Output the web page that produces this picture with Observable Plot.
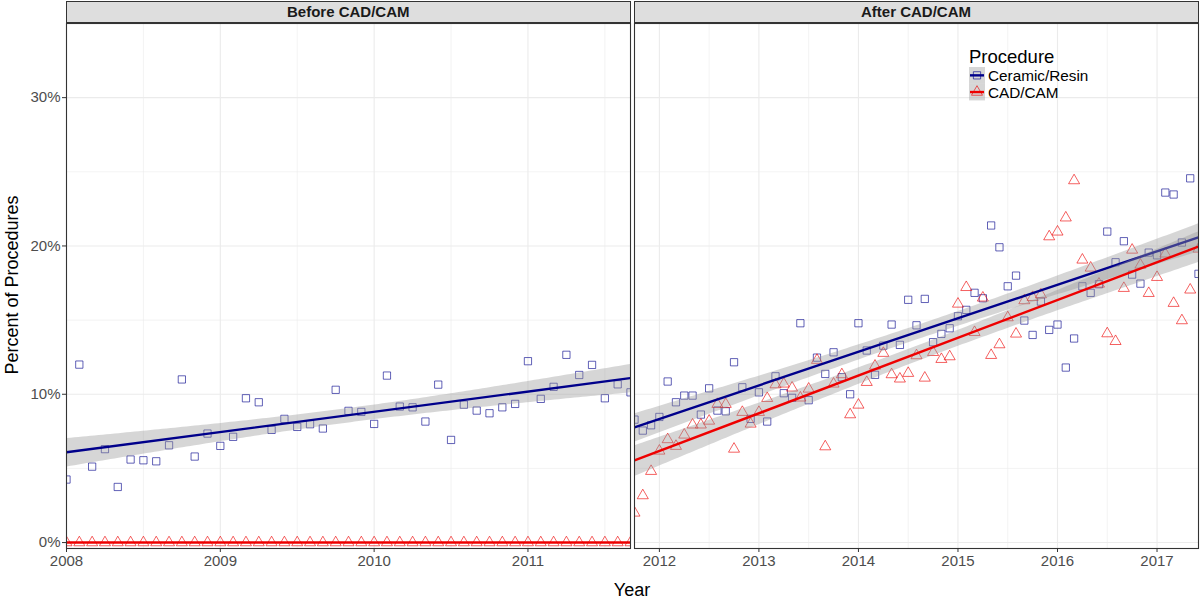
<!DOCTYPE html>
<html>
<head>
<meta charset="utf-8">
<script src="https://cdn.jsdelivr.net/npm/d3@7"></script>
<script src="https://cdn.jsdelivr.net/npm/@observablehq/plot@0.6"></script>
<style>
  body { margin: 0; background: #fff; font-family: "Liberation Sans", Arial, Helvetica, sans-serif; }
  #root { position: relative; width: 1200px; height: 600px; overflow: hidden; background: #fff; }
  .strip { position: absolute; top: 1px; height: 22px; background: #dedede; border: 1px solid #333; box-sizing: border-box;
           font-weight: bold; font-size: 15px; color: #1a1a1a; text-align: center; line-height: 20px; }
  .panel { position: absolute; top: 22px; }
  .ytitle { position: absolute; left: 12px; top: 285px; transform: translate(-50%, -50%) rotate(-90deg); white-space: nowrap;
            font-size: 18px; color: #000; }
  .xtitle { position: absolute; left: 632px; top: 581px; height: 18px; transform: translateX(-50%); font-size: 18px; line-height: 18px; color: #000; white-space: nowrap; }
  .legend { position: absolute; left: 969px; top: 44px; }
</style>
</head>
<body>
<div id="root"></div>
<script>
// ---------- data ----------
const procedures = ["Ceramic/Resin", "CAD/CAM"];
const lineColors = ["#00008b", "#ee0000"];
const symbols = ["square", "triangle"];
const facets = ["Before CAD/CAM", "After CAD/CAM"];

// monthly series, Before: Jan 2008 – Sep 2011
const beforeStart = [2008, 1];
const beforeCeramic = [4.25, 12.0, 5.12, 6.3, 3.75, 5.6, 5.55, 5.48, 6.56, 11.0,
  5.8, 7.35, 6.52, 7.13, 9.73, 9.46, 7.6, 8.34, 7.8, 7.98,
  7.69, 10.3, 8.88, 8.81, 8.0, 11.26, 9.17, 9.12, 8.16, 10.65,
  6.92, 9.3, 8.9, 8.72, 9.12, 9.35, 12.23, 9.69, 10.5, 12.66,
  11.3, 11.98, 9.73, 10.67, 10.13];
const beforeCadcam = [0, 0, 0, 0, 0, 0, 0, 0, 0, 0,
  0, 0, 0, 0, 0, 0, 0, 0, 0, 0,
  0, 0, 0, 0, 0, 0, 0, 0, 0, 0,
  0, 0, 0, 0, 0, 0, 0, 0, 0, 0,
  0, 0, 0, 0, 0];

// monthly series, After: Oct 2011 – Jun 2017
const afterStart = [2011, 10];
const afterCeramic = [8.29, 7.55, 7.91, 8.47, 10.86, 9.46, 9.91, 9.91, 8.63, 10.4,
  8.9, 8.85, 12.16, 10.47, 8.34, 10.13, 8.16, 11.21, 10.07, 9.76,
  14.79, 9.6, 12.47, 11.37, 12.83, 11.15, 10.0, 14.79, 12.95, 11.31,
  13.28, 14.7, 13.33, 16.37, 14.65, 16.43, 13.51, 14.07, 14.45, 15.26,
  15.69, 16.84, 16.47, 21.38, 19.91, 17.28, 18.0, 14.97, 14.0, 16.25,
  14.34, 14.7, 11.8, 13.76, 17.28, 16.84, 17.42, 20.97, 18.9, 20.32,
  18.07, 17.46, 19.55, 19.37, 23.6, 23.47, 20.23, 24.56, 18.12];
const afterCadcam = [2.0, 3.17, 4.81, 6.18, 6.95, 6.5, 7.26, 7.94, 7.94, 8.2,
  9.33, 9.33, 6.31, 8.79, 8.0, 8.79, 9.73, 10.65, 10.7, 10.43,
  9.76, 10.36, 12.3, 6.47, 10.7, 11.33, 8.63, 9.28, 10.81, 11.91,
  12.77, 11.33, 11.04, 11.42, 12.61, 11.1, 12.83, 12.36, 12.54, 16.09,
  17.21, 14.18, 16.5, 12.63, 13.35, 15.17, 14.07, 16.32, 16.54, 16.72,
  20.63, 20.95, 21.9, 24.41, 19.06, 18.52, 17.44, 14.09, 13.57, 17.15,
  19.73, 18.72, 16.81, 17.89, 19.47, 16.14, 14.97, 17.04, 19.8];

// axes
const beforeDomain = [2008, 2011 + 8 / 12];
const afterDomain = [2011 + 9 / 12, 2017 + 5 / 12];
const beforeTicks = [2008, 2009, 2010, 2011];
const beforeMinor = [2008.5, 2009.5, 2010.5, 2011.5];
const afterTicks = [2012, 2013, 2014, 2015, 2016, 2017];
const afterMinor = [2012.5, 2013.5, 2014.5, 2015.5, 2016.5];
const yDomain = [-0.4, 35];
const yTicks = [0, 10, 20, 30];
const yTickLabels = ["0%", "10%", "20%", "30%"];
const yMinor = [5, 15, 25, 35];

// ---------- build ----------
const FONT = '"Liberation Sans", Arial, Helvetica, sans-serif';

function rows(start, ceramic, cadcam) {
  const [yr, mo] = start;
  const out = [];
  ceramic.forEach((v, i) => out.push({t: yr + (mo - 1 + i) / 12, pct: v, procedure: procedures[0]}));
  cadcam.forEach((v, i) => out.push({t: yr + (mo - 1 + i) / 12, pct: v, procedure: procedures[1]}));
  return out;
}

function panel({data, domain, ticks, minor, width, marginLeft, showY}) {
  return Plot.plot({
    width, height: 578, marginTop: 1, marginBottom: 52, marginLeft, marginRight: 2,
    style: {fontFamily: FONT, fontSize: "15px", background: "transparent", overflow: "visible"},
    x: {domain, axis: null},
    y: {domain: yDomain, axis: null},
    color: {domain: procedures, range: lineColors},
    symbol: {domain: procedures, range: symbols},
    marks: [
      Plot.gridX(minor, {stroke: "#ebebeb", strokeOpacity: 1, strokeWidth: 0.6}),
      Plot.gridY(yMinor, {stroke: "#ebebeb", strokeOpacity: 1, strokeWidth: 0.6}),
      Plot.gridX(ticks, {stroke: "#ebebeb", strokeOpacity: 1, strokeWidth: 1.1}),
      Plot.gridY(yTicks, {stroke: "#ebebeb", strokeOpacity: 1, strokeWidth: 1.1}),
      Plot.dot(data, {x: "t", y: "pct", stroke: "procedure", symbol: "procedure", fill: "none",
        r: 4.1, strokeWidth: 1, strokeOpacity: 0.62, clip: true}),
      Plot.linearRegressionY(data, {x: "t", y: "pct", stroke: "procedure", z: "procedure",
        fill: "#999999", fillOpacity: 0.4, strokeWidth: 2.4, ci: 0.95, clip: true}),
      showY ? Plot.axisY(yTicks, {tickFormat: (d) => yTickLabels[yTicks.indexOf(d)], tickSize: 4, tickPadding: 2,
        stroke: "#333333", fill: "#4d4d4d", fontSize: 15, label: null}) : null,
      Plot.axisX(ticks, {tickFormat: (d) => String(d), tickSize: 4, tickPadding: 3,
        stroke: "#333333", fill: "#4d4d4d", fontSize: 15, label: null}),
      Plot.frame({stroke: "#333333", strokeWidth: 1.1})
    ]
  });
}

const root = document.getElementById("root");

const left = panel({data: rows(beforeStart, beforeCeramic, beforeCadcam), domain: beforeDomain,
  ticks: beforeTicks, minor: beforeMinor, width: 632, marginLeft: 66, showY: true});
left.classList.add("panel"); left.style.left = "0px";
root.appendChild(left);

const right = panel({data: rows(afterStart, afterCeramic, afterCadcam), domain: afterDomain,
  ticks: afterTicks, minor: afterMinor, width: 568, marginLeft: 2, showY: false});
right.classList.add("panel"); right.style.left = "632px";
root.appendChild(right);

// strips
[[65.5, 565.5], [633.5, 565]].forEach(([x, w], i) => {
  const s = document.createElement("div");
  s.className = "strip";
  s.style.left = x + "px"; s.style.width = w + "px";
  s.textContent = facets[i];
  root.appendChild(s);
});

// axis titles
const yt = document.createElement("div"); yt.className = "ytitle"; yt.textContent = "Percent of Procedures"; root.appendChild(yt);
const xt = document.createElement("div"); xt.className = "xtitle"; xt.textContent = "Year"; root.appendChild(xt);

// legend
const lg = document.createElement("div");
lg.className = "legend";
const NS = "http://www.w3.org/2000/svg";
const svg = document.createElementNS(NS, "svg");
svg.setAttribute("width", 160); svg.setAttribute("height", 62);
svg.style.overflow = "visible";
const title = document.createElementNS(NS, "text");
title.setAttribute("x", 0); title.setAttribute("y", 18.5);
title.setAttribute("font-size", "18.5px"); title.setAttribute("font-family", FONT);
title.textContent = "Procedure";
svg.appendChild(title);
procedures.forEach((p, i) => {
  const y0 = 23 + i * 16.7;
  const r = document.createElementNS(NS, "rect");
  r.setAttribute("x", 0); r.setAttribute("y", y0); r.setAttribute("width", 16); r.setAttribute("height", 16.7);
  r.setAttribute("fill", "#999999"); r.setAttribute("fill-opacity", 0.4);
  svg.appendChild(r);
  const sym = document.createElementNS(NS, "path");
  const type = symbols[i] === "square" ? d3.symbolSquare : d3.symbolTriangle;
  sym.setAttribute("d", d3.symbol(type, Math.PI * 4.1 * 4.1)());
  sym.setAttribute("transform", `translate(8,${y0 + 8.35})`);
  sym.setAttribute("fill", "none"); sym.setAttribute("stroke", lineColors[i]); sym.setAttribute("stroke-opacity", 0.62);
  svg.appendChild(sym);
  const ln = document.createElementNS(NS, "line");
  ln.setAttribute("x1", 1); ln.setAttribute("x2", 15); ln.setAttribute("y1", y0 + 8.35); ln.setAttribute("y2", y0 + 8.35);
  ln.setAttribute("stroke", lineColors[i]); ln.setAttribute("stroke-width", 2.4);
  svg.appendChild(ln);
  const t = document.createElementNS(NS, "text");
  t.setAttribute("x", 19); t.setAttribute("y", y0 + 14);
  t.setAttribute("font-size", "15.3px"); t.setAttribute("font-family", FONT);
  t.textContent = p;
  svg.appendChild(t);
});
lg.appendChild(svg);
root.appendChild(lg);
</script>
</body>
</html>
